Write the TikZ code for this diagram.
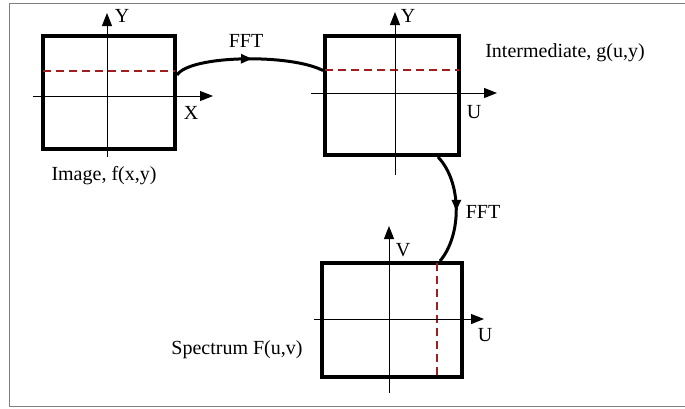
\documentclass[tikz,border=0pt]{standalone}
\usepackage{fontspec}
\setmainfont{Liberation Serif}
\usepackage{tikz}
\usetikzlibrary{arrows.meta,calc,decorations.markings}
\definecolor{Frame}{HTML}{808080}
\definecolor{DashRed}{HTML}{A01E1E}

\begin{document}
\begin{tikzpicture}[x=1pt,y=-1pt,
  plane/.style={rectangle,draw=black,line width=4pt,inner sep=0pt},
  axis/.style={draw=black,line width=1pt,-{Triangle[length=13pt,width=10pt]}},
  slice/.style={draw=DashRed,line width=2pt,dash pattern=on 8pt off 5pt},
  fft/.style={draw=black,line width=3pt,postaction={decorate},
    decoration={markings,mark=at position 0.52 with {\arrow{Triangle[length=11pt,width=9pt]}}}},
  label/.style={font=\fontsize{20}{23}\selectfont,inner sep=0pt}
]
\useasboundingbox (0,0) rectangle (685,408);
\draw[Frame,line width=1pt] (686,3) -- (9.5,3) -- (9.5,406.5) -- (686,406.5);

% image plane
\node[plane,minimum width=132pt,minimum height=113pt] (img) at (109,92.5) {};
\draw[slice] (43,71) -- (175,71);
\draw[axis] (107,157) -- (107,13);
\draw[axis] (33,96) -- (213,96);
\node[label] (imgy) at (122,16) {Y};
\node[label] (imgx) at (191,113) {X};
\node[label] (imgname) at (104,176) {Image, f(x,y)};

% intermediate plane
\node[plane,minimum width=134pt,minimum height=119pt] (inter) at (392,95.5) {};
\draw[slice] (325,70) -- (459,70);
\draw[axis] (395,175) -- (395,12);
\draw[axis] (311,93) -- (497,93);
\node[label] (intery) at (408,16) {Y};
\node[label] (interu) at (474,112) {U};
\node[label] (intername) at (565,53) {Intermediate, g(u,y)};

% spectrum plane
\node[plane,minimum width=140pt,minimum height=114pt] (spec) at (392,320) {};
\draw[slice] (437,263) -- (437,377);
\draw[axis] (389,393) -- (389,226);
\draw[axis] (314,319) -- (484,319);
\node[label] (specv) at (403,250) {V};
\node[label] (specu) at (485,335) {U};
\node[label] (specname) at (237,350) {Spectrum F(u,v)};

% transforms
\draw[fft] ([yshift=17.5pt]img.east) .. controls +(13,-20) and +(-33,-17) .. ([yshift=25pt]inter.west);
\node[label] (fft1) at (246,41) {FFT};
\draw[fft] ([xshift=46pt]inter.south) .. controls +(24,25) and +(22,-26) .. ([xshift=48pt]spec.north);
\node[label] (fft2) at (483,212) {FFT};
\end{tikzpicture}
\end{document}
